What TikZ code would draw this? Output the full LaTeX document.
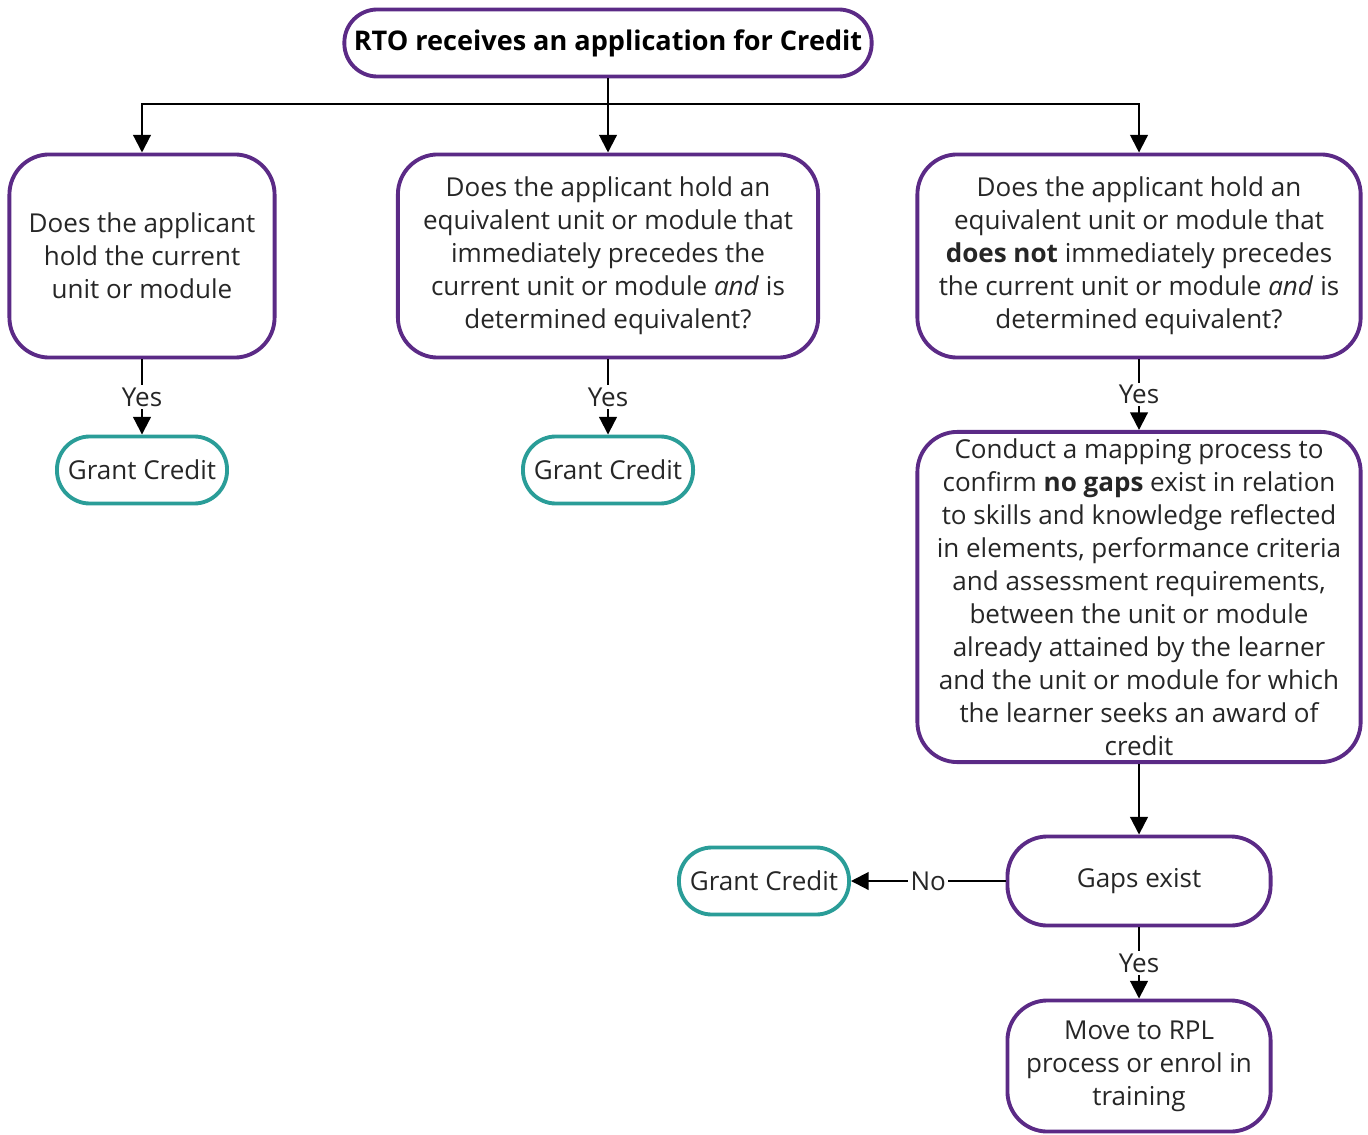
\documentclass[tikz,border=0pt]{standalone}
\usepackage{fontspec}
\setmainfont{Open Sans}
\usetikzlibrary{arrows.meta}
\definecolor{flowpurple}{HTML}{5B2A86}
\definecolor{flowteal}{HTML}{2A9D98}
\newcommand{\boxfont}{\fontsize{7.4}{9.4}\selectfont}
\newcommand{\titlefont}{\fontsize{7.7}{9.4}\selectfont\bfseries}

\begin{document}
\begin{tikzpicture}[x=0.01cm,y=-0.01cm]
\tikzstyle{every node} = [font=\boxfont, text=black!85]
\tikzstyle{question} = [draw=flowpurple, line width=1.1pt, rounded corners=0.4cm, align=center, inner sep=0pt]
\tikzstyle{grant} = [draw=flowteal, line width=1.1pt, rounded corners=0.33cm, inner sep=0pt, minimum width=1.7cm, minimum height=0.67cm]
\tikzstyle{flow} = [line width=0.6pt, -{Triangle[length=5pt,width=5pt]}]
\tikzstyle{answer} = [fill=white, inner sep=0.6pt]

\useasboundingbox (0,0) rectangle (1368,1134);

\node[question, rounded corners=0.33cm, minimum width=5.27cm, minimum height=0.67cm, font=\titlefont, text=black] (start) at (608,43) {RTO receives an application for Credit};

\node[question, minimum width=2.65cm, minimum height=2.03cm] (holds) at (142,256)
  {Does the applicant\\ hold the current\\ unit or module};
\node[question, minimum width=4.2cm, minimum height=2.03cm] (precedes) at (608,256)
  {Does the applicant hold an\\ equivalent unit or module that\\ immediately precedes the\\ current unit or module \emph{and} is\\ determined equivalent?};
\node[question, minimum width=4.43cm, minimum height=2.03cm] (notprecedes) at (1139,256)
  {Does the applicant hold an\\ equivalent unit or module that\\ \textbf{does not} immediately precedes\\ the current unit or module \emph{and} is\\ determined equivalent?};

\node[grant] (grantA) at (142,470) {Grant Credit};
\node[grant] (grantB) at (608,470) {Grant Credit};

\node[question, minimum width=4.43cm, minimum height=3.3cm] (mapping) at (1139,597)
  {Conduct a mapping process to\\ confirm \textbf{no gaps} exist in relation\\ to skills and knowledge reflected\\ in elements, performance criteria\\ and assessment requirements,\\ between the unit or module\\ already attained by the learner\\ and the unit or module for which\\ the learner seeks an award of\\ credit};

\node[question, minimum width=2.63cm, minimum height=0.89cm] (gaps) at (1139,881) {Gaps exist};
\node[grant] (grantC) at (764,881) {Grant Credit};
\node[question, minimum width=2.63cm, minimum height=1.31cm] (rpl) at (1139,1066)
  {Move to RPL\\ process or enrol in\\ training};

\coordinate (split) at (608,104);

\draw[flow] (start.south) -- (precedes.north);
\draw[flow] (split) -| (holds.north);
\draw[flow] (split) -| (notprecedes.north);

\draw[flow] (holds.south) -- node[answer]{Yes} (grantA.north);
\draw[flow] (precedes.south) -- node[answer]{Yes} (grantB.north);
\draw[flow] (notprecedes.south) -- node[answer]{Yes} (mapping.north);
\draw[flow] (mapping.south) -- (gaps.north);
\draw[flow] (gaps.west) -- node[answer]{No} (grantC.east);
\draw[flow] (gaps.south) -- node[answer]{Yes} (rpl.north);

\end{tikzpicture}
\end{document}
